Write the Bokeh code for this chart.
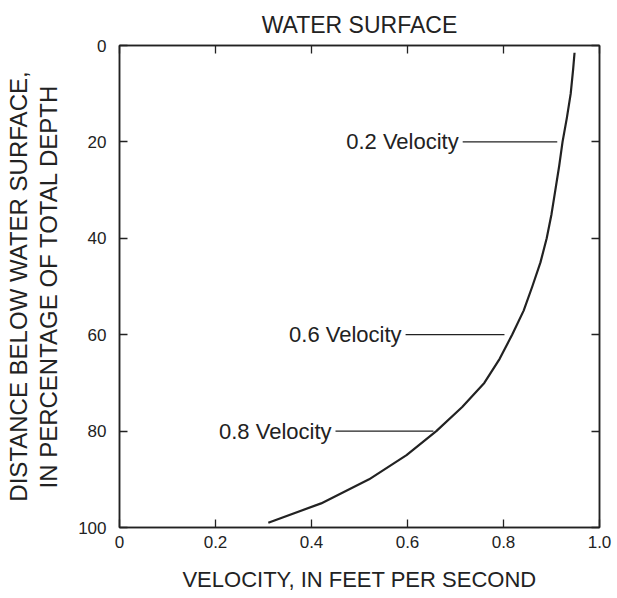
from bokeh.plotting import figure
from bokeh.models import Range1d, LinearAxis, FixedTicker, ColumnDataSource, CustomLabelingPolicy
from bokeh.embed import file_html
from bokeh.resources import INLINE
from bokeh.core.properties import value

# ---- data ----
depth_pct = [1.5, 5, 10, 15, 20, 25, 30, 35, 40, 45, 50, 55, 60, 65, 70, 75, 80, 85, 90, 95, 99]
velocity = [0.948, 0.945, 0.94, 0.932, 0.923, 0.916, 0.908, 0.900, 0.890, 0.877, 0.860,
            0.842, 0.818, 0.792, 0.760, 0.714, 0.660, 0.598, 0.520, 0.420, 0.310]

label_texts = ["0.2 Velocity", "0.6 Velocity", "0.8 Velocity"]
label_depth = [20, 60, 80]
leader_x0 = [0.715, 0.596, 0.45]
leader_x1 = [0.912, 0.802, 0.654]

x_ticks = [0, 0.2, 0.4, 0.6, 0.8, 1.0]
y_ticks = [0, 20, 40, 60, 80, 100]

FONT = "Liberation Sans"
INK = "#222222"

p = figure(width=617, height=598, x_range=Range1d(0, 1), y_range=Range1d(100, 0),
           output_backend="svg", toolbar_location=None,
           min_border_left=119, min_border_right=18, min_border_top=45, min_border_bottom=71)
p.grid.visible = False
p.outline_line_color = INK
p.outline_line_width = 1.5
p.background_fill_color = "white"
p.border_fill_color = "white"

hide_all = CustomLabelingPolicy(code="""
for (const i of indices) indices.unset(i)
return indices
""")

def style_axis(ax, ticks, show_labels=True):
    ax.ticker = FixedTicker(ticks=ticks)
    ax.major_tick_in = 8
    ax.major_tick_out = 0
    ax.minor_tick_line_color = None
    ax.major_tick_line_color = INK
    ax.major_tick_line_width = 1.3
    ax.axis_line_color = INK
    ax.axis_line_width = 1.5
    ax.major_label_text_font = FONT
    ax.major_label_text_color = INK
    ax.major_label_text_font_size = "17px"
    if not show_labels:
        ax.major_label_policy = hide_all
        ax.major_label_text_font_size = "1px"
        ax.major_label_standoff = 0
    ax.axis_label_text_font = FONT
    ax.axis_label_text_font_style = "normal"
    ax.axis_label_text_color = INK
    ax.axis_label_text_font_size = "22px"

# bottom
xa = p.xaxis[0]
style_axis(xa, x_ticks)
xa.major_label_overrides = {0: "0", 1: "1.0"}
xa.major_label_standoff = 8
xa.axis_label = "VELOCITY, IN FEET PER SECOND"
xa.axis_label_standoff = 16

# left (inner)
ya = p.yaxis[0]
style_axis(ya, y_ticks)
ya.major_label_standoff = 13
ya.axis_label = "IN PERCENTAGE OF TOTAL DEPTH"
ya.axis_label_text_font_size = "24px"
ya.axis_label_standoff = 13

# left (outer) - first line of y title
ya2 = LinearAxis()
style_axis(ya2, [], show_labels=False)
ya2.axis_line_color = None
ya2.axis_label = "DISTANCE BELOW WATER SURFACE,"
ya2.axis_label_text_font_size = "24px"
ya2.axis_label_standoff = 1
p.add_layout(ya2, "left")

# top
ta = LinearAxis()
style_axis(ta, x_ticks, show_labels=False)
ta.axis_label = "WATER SURFACE"
ta.axis_label_text_font_size = "23px"
ta.axis_label_standoff = 4
p.add_layout(ta, "above")

# right
ra = LinearAxis()
style_axis(ra, y_ticks, show_labels=False)
p.add_layout(ra, "right")

# curve
p.line(velocity, depth_pct, line_color=INK, line_width=2.2, line_join="round")

# leaders and labels
src = ColumnDataSource(dict(x0=leader_x0, x1=leader_x1, y=label_depth, t=label_texts))
p.segment(x0="x0", y0="y", x1="x1", y1="y", source=src, line_color=INK, line_width=1.2)
p.text(x="x0", y="y", text="t", source=src, text_align="right", text_baseline="middle",
       x_offset=-4, text_font=value(FONT), text_font_size="22px", text_color=INK)

open("out.html", "w").write(file_html(p, INLINE))
